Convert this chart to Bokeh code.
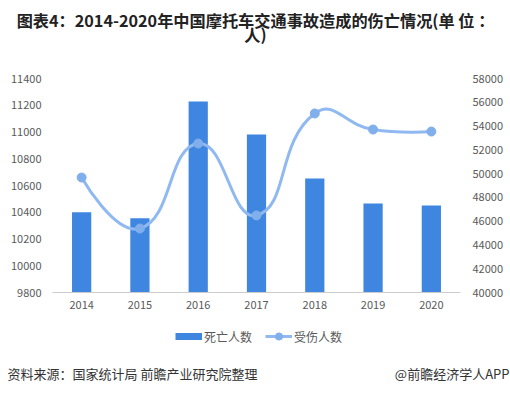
import math
from bokeh.plotting import figure
from bokeh.layouts import column
from bokeh.models import Range1d, LinearAxis, FixedTicker, Legend, LegendItem, Label, Plot
from bokeh.embed import file_html
from bokeh.resources import INLINE

years = ["2014", "2015", "2016", "2017", "2018", "2019", "2020"]
deaths = [10400, 10356, 11228, 10981, 10653, 10466, 10451]
injuries = [49670, 45380, 52530, 46480, 55060, 53710, 53540]
left_ticks = [9800, 10000, 10200, 10400, 10600, 10800, 11000, 11200, 11400]
right_ticks = [40000, 42000, 44000, 46000, 48000, 50000, 52000, 54000, 56000, 58000]
title_line1 = "图表4：2014-2020年中国摩托车交通事故造成的伤亡情况(单 位 ："
title_line2 = "人)"
series_names = ["死亡人数", "受伤人数"]
source_text = "资料来源：国家统计局 前瞻产业研究院整理"
brand_text = "@前瞻经济学人APP"

BAR = "#3f86e0"
LINE = "#8fb9f0"
DOT = "#80afec"
FONT = "Noto Sans CJK SC"
W = 510
H_HEAD, H_MAIN, H_FOOT = 62, 254, 80
HAS_FRAME_ALIGN = "frame_align" in Plot.properties()


def bare(h):
    f = figure(width=W, height=h, output_backend="svg", toolbar_location=None,
               x_range=Range1d(0, W), y_range=Range1d(0, h),
               x_axis_location=None, y_axis_location=None, min_border=0)
    if HAS_FRAME_ALIGN:
        f.frame_align = False
    f.outline_line_color = None
    f.xgrid.grid_line_color = None
    f.ygrid.grid_line_color = None
    f.border_fill_color = "white"
    f.background_fill_color = "white"
    return f


# ---------- title ----------
head = bare(H_HEAD)
for txt, yy in [(title_line1, 42.5), (title_line2, 28.5)]:
    head.add_layout(Label(x=255, y=yy, x_units="screen", y_units="screen", text=txt,
                          text_font=FONT, text_font_size="16.2px", text_font_style="bold",
                          text_color="#222222", text_align="center", text_baseline="middle"))

# ---------- main chart ----------
p = figure(width=W, height=H_MAIN, output_backend="svg", toolbar_location=None,
           x_range=Range1d(-0.5, 6.5), y_range=Range1d(9800, 11400),
           min_border_left=52, min_border_right=50, min_border_top=16, min_border_bottom=24)
if HAS_FRAME_ALIGN:
    p.frame_align = False
p.outline_line_color = None
p.xgrid.grid_line_color = None
p.ygrid.grid_line_color = None
p.background_fill_color = "white"
p.border_fill_color = "white"
p.extra_y_ranges = {"r": Range1d(40000, 58000)}

xs = list(range(len(years)))


def plain(ax, size, color, standoff):
    ax.axis_line_color = None
    ax.major_tick_line_color = None
    ax.minor_tick_line_color = None
    ax.major_tick_out = 0
    ax.major_tick_in = 0
    ax.major_label_text_font = FONT
    ax.major_label_text_font_size = size
    ax.major_label_text_color = color
    ax.major_label_standoff = standoff


xa = p.xaxis[0]
plain(xa, "11px", "#595959", 8)
xa.ticker = FixedTicker(ticks=xs)
xa.major_label_overrides = {i: y for i, y in enumerate(years)}
xa.axis_line_color = "#cccccc"

ya = p.yaxis[0]
plain(ya, "11px", "#595959", 11)
ya.ticker = FixedTicker(ticks=left_ticks)

ra = LinearAxis(y_range_name="r", ticker=FixedTicker(ticks=right_ticks))
plain(ra, "11px", "#595959", 12)
p.add_layout(ra, "right")

p.vbar(x=xs, top=deaths, bottom=9800, width=0.33, color=BAR, line_color=None)

# smooth curve (echarts style, smooth = 0.5), control points computed in pixel space
sx = 408.0 / 7.0
sy = 214.0 / 18000.0
P = [(x * sx, v * sy) for x, v in zip(xs, injuries)]
smooth = 0.5
n = len(P)
x0s, y0s, x1s, y1s, cx0s, cy0s, cx1s, cy1s = [], [], [], [], [], [], [], []
cp_out = P[0]
for i in range(1, n):
    x, y = P[i]
    px_, py_ = P[i - 1]
    if i == n - 1:
        cin = (x, y)
        nxt_out = (x, y)
    else:
        nx, ny = P[i + 1]
        vx, vy = nx - px_, ny - py_
        l0 = math.hypot(x - px_, y - py_)
        l1 = math.hypot(nx - x, ny - y)
        r = l1 / (l0 + l1)
        cin = (x - vx * smooth * (1 - r), y - vy * smooth * (1 - r))
        nxt_out = (x + vx * smooth * r, y + vy * smooth * r)
    x0s.append(px_ / sx); y0s.append(py_ / sy)
    x1s.append(x / sx); y1s.append(y / sy)
    cx0s.append(cp_out[0] / sx); cy0s.append(cp_out[1] / sy)
    cx1s.append(cin[0] / sx); cy1s.append(cin[1] / sy)
    cp_out = nxt_out

p.bezier(x0=x0s, y0=y0s, x1=x1s, y1=y1s, cx0=cx0s, cy0=cy0s, cx1=cx1s, cy1=cy1s,
         line_color=LINE, line_width=3, y_range_name="r")
p.scatter(x=xs, y=injuries, size=9, fill_color=DOT, line_color=DOT, y_range_name="r")

# ---------- legend + footer ----------
# legend keys: the same series drawn in the strip, far outside its visible range
foot = bare(H_FOOT)
key_bar = foot.line(x=xs, y=deaths, line_color=BAR, line_width=7, line_cap="butt")
key_line = foot.line(x=xs, y=injuries, line_color=LINE, line_width=3)
key_dot = foot.scatter(x=xs, y=injuries, fill_color=DOT, line_color=DOT)
legend = Legend(items=[LegendItem(label=series_names[0], renderers=[key_bar]),
                       LegendItem(label=series_names[1], renderers=[key_line, key_dot])],
                orientation="horizontal", location=(175, 51),
                glyph_width=27, glyph_height=18, label_standoff=2, spacing=13,
                padding=0, margin=0, border_line_color=None, background_fill_alpha=0,
                label_text_font=FONT, label_text_font_size="12px",
                label_text_color="#595959")
foot.add_layout(legend, "center")
foot.add_layout(Label(x=7, y=23, x_units="screen", y_units="screen", text=source_text,
                      text_font=FONT, text_font_size="13px", text_color="#333333",
                      text_align="left", text_baseline="middle"))
foot.add_layout(Label(x=509, y=23, x_units="screen", y_units="screen", text=brand_text,
                      text_font=FONT, text_font_size="13px", text_color="#333333",
                      text_align="right", text_baseline="middle"))

page = column(head, p, foot, spacing=0)
open("out.html", "w").write(file_html(page, INLINE))
